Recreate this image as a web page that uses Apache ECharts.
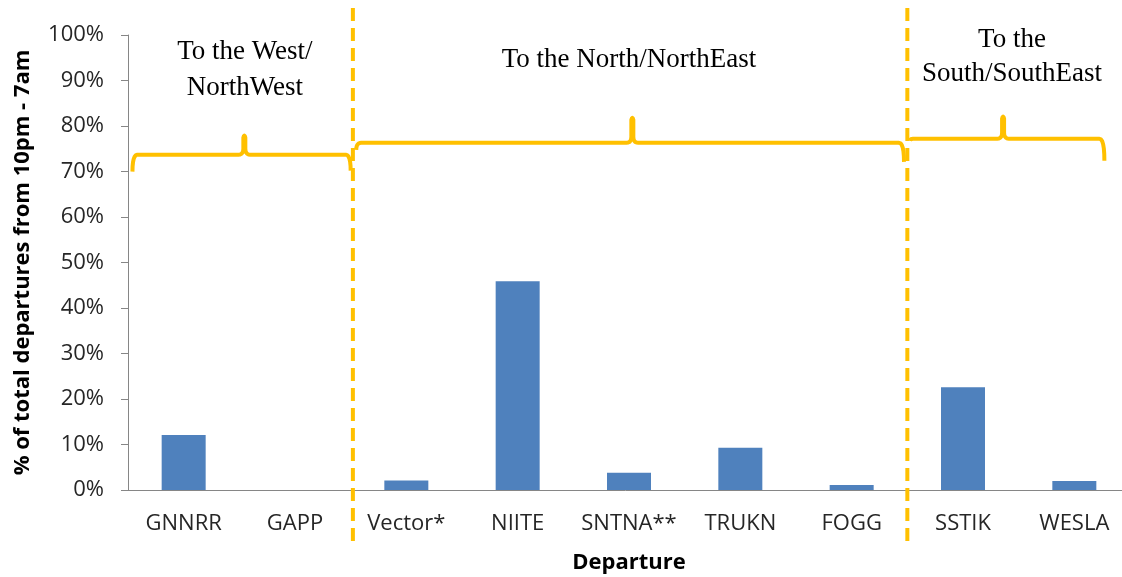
<!DOCTYPE html>
<html>
<head>
<meta charset="utf-8">
<script src="https://cdn.jsdelivr.net/npm/echarts@6/dist/echarts.min.js"></script>
<style>
  html, body { margin: 0; padding: 0; background: #fff; }
  #main { width: 1122px; height: 577px; }
</style>
</head>
<body>
<div id="main"></div>
<script>
// data
const departures = ['GNNRR', 'GAPP', 'Vector*', 'NIITE', 'SNTNA**', 'TRUKN', 'FOGG', 'SSTIK', 'WESLA'];
const shares = [12.1, 0, 2.1, 45.9, 3.8, 9.3, 1.1, 22.6, 2.0];
const groupNames = ['To the West/\nNorthWest', 'To the North/NorthEast', 'To the\nSouth/SouthEast'];
const dividers = [2.02, 7.0]; // category boundaries (GAPP|Vector*, FOGG|SSTIK)

// annotation layout (in category units: category i spans [i, i+1])
const braceFrom = [0.04, 2.05, 7.02];
const braceTo = [2.0, 6.97, 8.77];
const bracePeak = [1.045, 4.53, 7.86];
const braceLevel = [73.7, 76.3, 77.2]; // % on y axis
const braceRise = [20, 26, 23];        // px
const braceDropL = [17, 7, 2];
const braceDropR = [16, 19, 22];
const textX = [1.05, 4.5, 7.94];
const textY = [[52, 88], [60], [40, 74]];

const gold = '#FFC000';
const axisGray = '#868686';

let chart = echarts.init(document.getElementById('main'));

chart.setOption({
    animation: false,
    grid: { left: 128, top: 35, width: 1002, height: 455, outerBoundsMode: 'none' },
    xAxis: [
        {
            type: 'category',
            data: departures,
            name: 'Departure',
            nameLocation: 'middle',
            nameGap: 62,
            nameTextStyle: { fontFamily: 'Open Sans', fontWeight: 'bold', fontSize: 22, color: '#000' },
            axisLine: { lineStyle: { color: axisGray, width: 1 } },
            axisTick: { length: 7, lineStyle: { color: axisGray } },
            axisLabel: { interval: 0, margin: 23, fontFamily: 'Open Sans', fontSize: 22, color: '#262626' }
        },
        { type: 'value', min: 0, max: 9, show: false }
    ],
    yAxis: {
        type: 'value',
        min: 0,
        max: 100,
        interval: 10,
        name: '% of total departures from 10pm - 7am',
        nameLocation: 'middle',
        nameGap: 94,
        nameTextStyle: { fontFamily: 'Open Sans', fontWeight: 'bold', fontSize: 22, color: '#000' },
        axisLine: { show: true, lineStyle: { color: axisGray, width: 1 } },
        axisTick: { show: true, length: 7, lineStyle: { color: axisGray } },
        splitLine: { show: false },
        axisLabel: { formatter: '{value}%', margin: 24, fontFamily: 'Open Sans', fontSize: 22, color: '#262626' }
    },
    series: [
        {
            type: 'bar',
            data: shares,
            barWidth: 44,
            itemStyle: { color: '#4F81BD' }
        }
    ]
});

// 括号和分隔线
function quad(p0, c, p1, n) {
    let pts = [];
    for (let i = 1; i <= n; i++) {
        let t = i / n;
        pts.push([
            (1 - t) * (1 - t) * p0[0] + 2 * (1 - t) * t * c[0] + t * t * p1[0],
            (1 - t) * (1 - t) * p0[1] + 2 * (1 - t) * t * c[1] + t * t * p1[1]
        ]);
    }
    return pts;
}

function bracePoints(x0, x1, xm, y, rise, dropL, dropR) {
    const r = 5;
    let pts = [[x0, y + dropL]];
    pts = pts.concat(quad([x0, y + dropL], [x0, y], [x0 + r, y], 6));
    pts.push([xm - 6, y]);
    pts = pts.concat(quad([xm - 6, y], [xm - 1, y], [xm - 1, y - 6], 5));
    pts.push([xm - 1, y - rise + 3]);
    pts = pts.concat(quad([xm - 1, y - rise + 3], [xm, y - rise - 1], [xm + 1, y - rise + 3], 4));
    pts.push([xm + 1, y - 6]);
    pts = pts.concat(quad([xm + 1, y - 6], [xm + 1, y], [xm + 6, y], 5));
    pts.push([x1 - r, y]);
    pts = pts.concat(quad([x1 - r, y], [x1, y], [x1, y + dropR], 6));
    return pts;
}

function xPx(v) { return chart.convertToPixel({ xAxisIndex: 1 }, v); }
function yPx(v) { return chart.convertToPixel({ yAxisIndex: 0 }, v); }

let graphics = [];
for (let d of dividers) {
    let x = xPx(d);
    graphics.push({
        type: 'line',
        shape: { x1: x, y1: 8, x2: x, y2: 541 },
        style: { stroke: gold, lineWidth: 4, lineDash: [13, 7] },
        z: 10
    });
}
for (let i = 0; i < groupNames.length; i++) {
    graphics.push({
        type: 'polyline',
        shape: {
            points: bracePoints(xPx(braceFrom[i]), xPx(braceTo[i]), xPx(bracePeak[i]),
                yPx(braceLevel[i]), braceRise[i], braceDropL[i], braceDropR[i])
        },
        style: { stroke: gold, lineWidth: 4, fill: null, lineJoin: 'round' },
        z: 9
    });
    let lines = groupNames[i].split('\n');
    lines.forEach((t, j) => {
        graphics.push({
            type: 'text',
            x: xPx(textX[i]),
            y: textY[i][j],
            style: {
                text: t,
                fontFamily: 'Liberation Serif',
                fontSize: 27,
                fill: '#000',
                align: 'center',
                verticalAlign: 'middle'
            }
        });
    });
}
chart.setOption({ graphic: graphics });

window.onresize = function () {
    chart.resize();
};
</script>
</body>
</html>
